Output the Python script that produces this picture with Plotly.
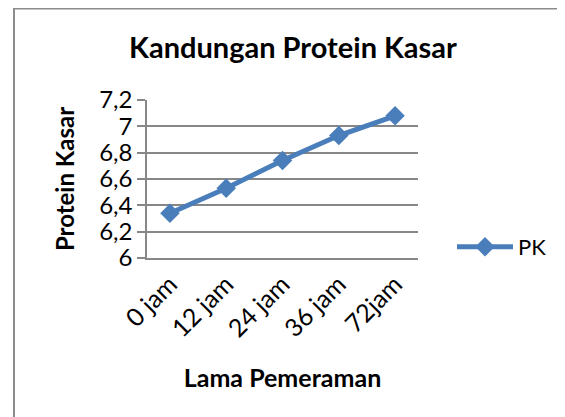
import plotly.graph_objects as go

categories = ["0 jam", "12 jam", "24 jam", "36 jam", "72jam"]
pk_values = [6.34, 6.53, 6.74, 6.93, 7.08]
y_ticks = [6, 6.2, 6.4, 6.6, 6.8, 7, 7.2]
y_tick_labels = ["6", "6,2", "6,4", "6,6", "6,8", "7", "7,2"]

FONT = "Lato, 'Open Sans', sans-serif"
BLUE = "#4A7EBB"
GRID = "#878787"

fig = go.Figure()
fig.add_trace(go.Scatter(
    x=categories, y=pk_values, name="PK", mode="lines+markers",
    line=dict(color=BLUE, width=5),
    marker=dict(symbol="diamond", size=15, color=BLUE),
))

# page has an 8px body margin; figure coordinates = page coordinates - 8
OFF = 8
W, H = 565 - OFF, 417 - OFF
L, T = 147 - OFF, 100 - OFF
R = W - (418 - OFF)
B = H - (258 - OFF)
pw, ph = W - L - R, H - T - B

def px_x(x):
    return (x - OFF - L) / pw

def px_y(y):
    return 1 - (y - OFF - T) / ph

fig.update_layout(
    width=W, height=H,
    margin=dict(l=L, r=R, t=T, b=B),
    paper_bgcolor="white", plot_bgcolor="white",
    font=dict(family=FONT, color="black", size=22),
    separators=",.",
    title=dict(text="<b>Kandungan Protein Kasar</b>", x=(293 - OFF) / W, xanchor="center",
               y=1 - (48 - OFF) / H, yanchor="middle", font=dict(size=29, family=FONT)),
    xaxis=dict(
        type="category", tickangle=-45, showgrid=False,
        showline=True, linecolor=GRID, linewidth=1.5,
        ticks="", tickfont=dict(size=25),
        title=dict(text="<b>Lama Pemeraman</b>", font=dict(size=25), standoff=28),
    ),
    yaxis=dict(
        range=[6, 7.2], tickvals=y_ticks, ticktext=y_tick_labels,
        showgrid=True, gridcolor=GRID, gridwidth=1.5,
        showline=True, linecolor=GRID, linewidth=1.5,
        ticks="outside", ticklen=8, tickcolor=GRID, tickwidth=1.5,
        tickfont=dict(size=24), zeroline=False,
        title=dict(text="<b>Protein Kasar</b>", font=dict(size=24), standoff=18),
    ),
    showlegend=True,
    legend=dict(x=px_x(452), y=px_y(247), xanchor="left", yanchor="middle",
                font=dict(size=22), itemwidth=56, bgcolor="rgba(0,0,0,0)"),
    shapes=[dict(type="rect", xref="paper", yref="paper",
                 x0=px_x(14), x1=px_x(580), y0=px_y(440), y1=px_y(8.5),
                 line=dict(color="#8C8C8C", width=2), layer="below")],
)

fig.write_html("out.html")
